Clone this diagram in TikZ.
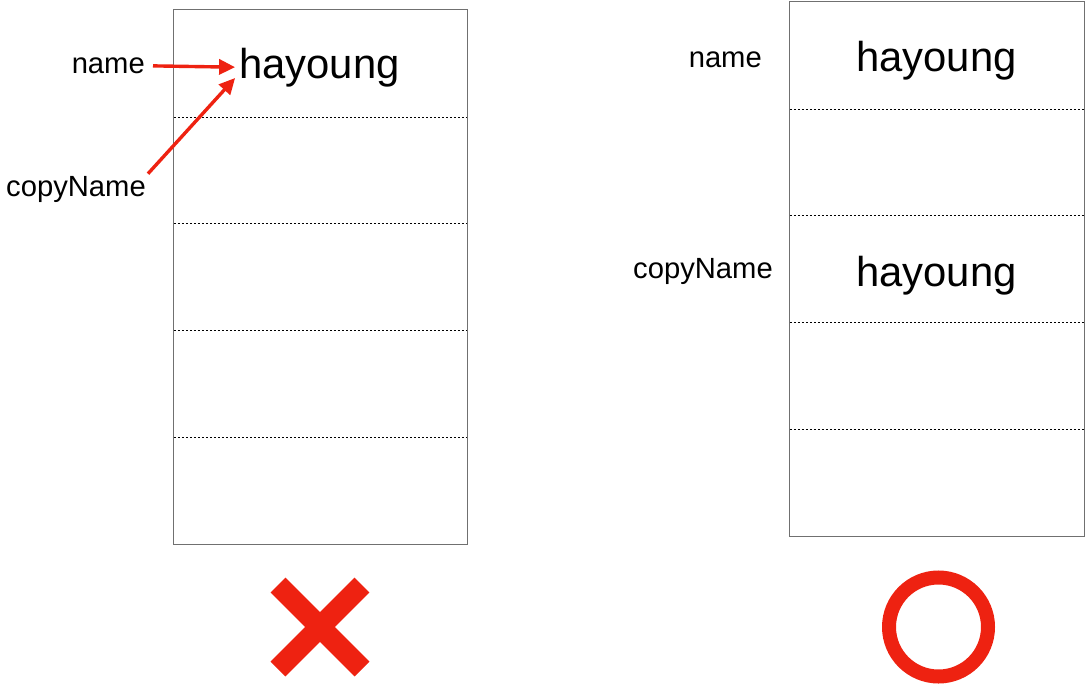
\documentclass[tikz,border=0pt]{standalone}
\usepackage{fontspec}
\setmainfont{Liberation Sans}
\usetikzlibrary{arrows.meta}
\definecolor{warnred}{RGB}{238,34,17}
\definecolor{boxgray}{RGB}{112,112,112}

\begin{document}
\begin{tikzpicture}[x=1pt, y=-1pt,
    cell/.style={rectangle, minimum width=293pt, minimum height=106.8pt, inner sep=0pt},
    box/.style={draw=boxgray, line width=1pt},
    divider/.style={black, line width=0.8pt, dash pattern=on 2pt off 2pt},
    val/.style={font=\fontsize{41.8}{48}\selectfont, anchor=base, inner sep=4pt},
    lbl/.style={font=\fontsize{29.2}{34}\selectfont, anchor=base east, inner sep=2pt},
    ref/.style={warnred, line width=3.4pt, -{Triangle[length=16pt,width=15pt]}},
    cross/.style={warnred, line width=21pt},
    ring/.style={warnred, line width=14pt}]
  \useasboundingbox (0,0) rectangle (1087,685);

  % left: both names share one value
  \node [cell] (l1) at (320.5,63.4) {};
  \node [cell] (l2) at (320.5,170.2) {};
  \node [cell] (l3) at (320.5,277) {};
  \node [cell] (l4) at (320.5,383.8) {};
  \node [cell] (l5) at (320.5,490.6) {};
  \draw[box] (l1.north west) rectangle (l5.south east);
  \draw[divider] (l1.south west) -- (l1.south east);
  \draw[divider] (l2.south west) -- (l2.south east);
  \draw[divider] (l3.south west) -- (l3.south east);
  \draw[divider] (l4.south west) -- (l4.south east);
  \node [val] (lv) at (319.5,78) {hayoung};
  \node [lbl] (ln1) at (147,73.5) {name};
  \node [lbl] (ln2) at (148,196) {copyName};
  \draw[ref, shorten <=6pt] (ln1.east) -- (lv.west);
  \draw[ref] (ln2.north east) -- (lv.base west);

  % right: each name has its own value
  \node [cell, minimum width=294pt] (r1) at (937,55.4) {};
  \node [cell, minimum width=294pt] (r2) at (937,162.2) {};
  \node [cell, minimum width=294pt] (r3) at (937,269) {};
  \node [cell, minimum width=294pt] (r4) at (937,375.8) {};
  \node [cell, minimum width=294pt] (r5) at (937,482.6) {};
  \draw[box] (r1.north west) rectangle (r5.south east);
  \draw[divider] (r1.south west) -- (r1.south east);
  \draw[divider] (r2.south west) -- (r2.south east);
  \draw[divider] (r3.south west) -- (r3.south east);
  \draw[divider] (r4.south west) -- (r4.south east);
  \node [val] (rv1) at (936.5,72) {hayoung};
  \node [val] (rv2) at (936.5,286) {hayoung};
  \node [lbl] (rn1) at (764,67) {name};
  \node [lbl] (rn2) at (775,278) {copyName};

  % marks
  \coordinate (xc) at (320,627);
  \draw[cross] ([shift={(-42,-42)}]xc) -- ([shift={(42,42)}]xc);
  \draw[cross] ([shift={(42,-42)}]xc) -- ([shift={(-42,42)}]xc);
  \coordinate (oc) at (938.5,627);
  \draw[ring] (oc) circle [radius=49.5pt];
\end{tikzpicture}
\end{document}
